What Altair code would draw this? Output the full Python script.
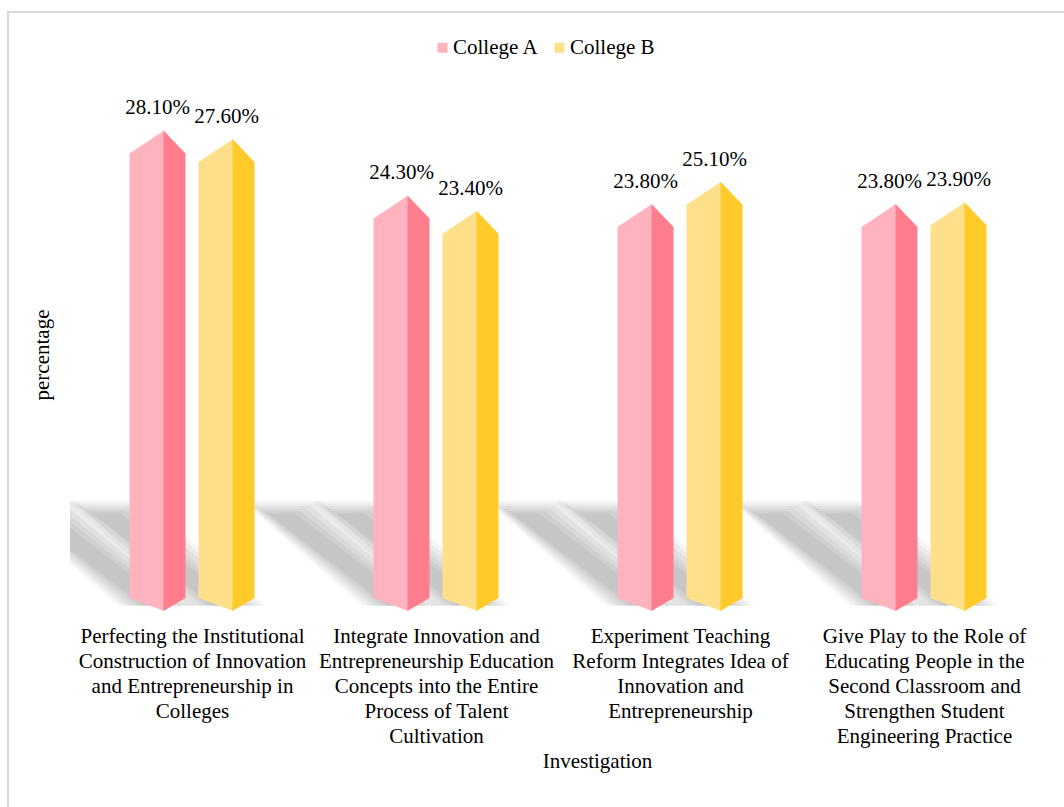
import json
import altair as alt
import pandas as pd

# ---------------- data ----------------
category_lines = [
    ["Perfecting the Institutional", "Construction of Innovation", "and Entrepreneurship in", "Colleges"],
    ["Integrate Innovation and", "Entrepreneurship Education", "Concepts into the Entire", "Process of Talent", "Cultivation"],
    ["Experiment Teaching", "Reform Integrates Idea of", "Innovation and", "Entrepreneurship"],
    ["Give Play to the Role of", "Educating People in the", "Second Classroom and", "Strengthen Student", "Engineering Practice"],
]
series_names = ["College A", "College B"]
college_a = [28.1, 24.3, 23.8, 23.8]
college_b = [27.6, 23.4, 25.1, 23.9]
front_colors = ["#FFB3BF", "#FFE08A"]
side_colors = ["#FF7D8D", "#FFCA2A"]

FONT = "Liberation Serif"
W, H = 976, 513
Y_MAX = 30.0
N = len(category_lines)
px_x = N / W        # x data units per pixel
px_y = Y_MAX / H    # y data units per pixel

# style offsets of the pseudo-3D prisms (pixels from category centre)
bar_offsets = {"College A": (-62.5, -28.5, -6.5), "College B": (6.5, 40.5, 62.5)}
TOP_DROP = 23 * px_y
BOTTOM_RISE = 13 * px_y
SHADOW_SHIFT = 120 * px_x
SHADOW_TOP = 6.0
SHADOW_BOTTOM = 0.3
BLUR_STEPS = [0, 5, 10, 15, 20, 25]

values = {"College A": college_a, "College B": college_b}
faces, labels, shadows = [], [], []
for i in range(N):
    c = i + 0.5
    for s in series_names:
        v = values[s][i]
        o0, oc, o1 = bar_offsets[s]
        x0, xc, x1 = c + o0 * px_x, c + oc * px_x, c + o1 * px_x
        key = f"{i}-{s}"
        faces += [
            dict(x=x0, y=v - TOP_DROP, y2=BOTTOM_RISE, face=key + "-f", series=s, part="front"),
            dict(x=xc + 0.6 * px_x, y=v, y2=0, face=key + "-f", series=s, part="front"),
            dict(x=xc, y=v, y2=0, face=key + "-s", series=s, part="side"),
            dict(x=x1, y=v - TOP_DROP, y2=BOTTOM_RISE, face=key + "-s", series=s, part="side"),
        ]
        labels.append(dict(x=(x0 + x1) / 2, y=v, text=f"{v:.2f}%"))
        for k, e in enumerate(BLUR_STEPS):
            shrink = 14 - e  # inner layers are narrower -> soft edges
            sx0, sx1 = x0 + shrink * px_x, x1 - shrink * px_x
            yt = SHADOW_TOP + (e - 10) * px_y * 0.5
            yb = SHADOW_BOTTOM
            w = sx1 - sx0
            D = SHADOW_SHIFT
            sid = f"{key}-{k}"
            shadows += [
                dict(x=sx0 - D, y=yt, y2=yt, sid=sid),
                dict(x=sx1 - D, y=yt, y2=yt + (yb - yt) * w / D, sid=sid),
                dict(x=sx0, y=yt + (yb - yt) * (D - w) / D, y2=yb, sid=sid),
                dict(x=sx1, y=yb, y2=yb, sid=sid),
            ]

faces_df = pd.DataFrame(faces)
labels_df = pd.DataFrame(labels)
shadows_df = pd.DataFrame(shadows)

joined = ["|".join(lines) for lines in category_lines]
label_expr = "split(" + json.dumps(joined) + "[floor(datum.value)], '|')"

x_axis = alt.Axis(
    values=[i + 0.5 for i in range(N)], labelExpr=label_expr,
    domain=False, ticks=False, grid=False, labelLimit=0,
    labelFont=FONT, labelFontSize=21, labelColor="#000000", labelLineHeight=25,
    labelPadding=14, labelOverlap=False, labelFlush=False,
    title="Investigation", titleFont=FONT, titleFontSize=21, titleFontWeight="normal",
    titleColor="#000000", titleX=527, titleY=139, titleBaseline="top", titleAlign="center",
)
y_axis = alt.Axis(
    domain=False, ticks=False, labels=False, grid=False,
    title="percentage", titleFont=FONT, titleFontSize=21, titleFontWeight="normal",
    titleColor="#000000", titleX=-28, titleY=H / 2, titleAngle=270,
    titleBaseline="middle", titleAlign="center",
)
x_enc = alt.X("x:Q", scale=alt.Scale(domain=[0, N], nice=False, zero=False), axis=x_axis)
y_enc = alt.Y("y:Q", scale=alt.Scale(domain=[0, Y_MAX], nice=False), axis=y_axis)

frame = alt.Chart(pd.DataFrame({"a": [0]})).mark_rect(
    filled=False, stroke="#D9D9D9", strokeWidth=2, clip=False
).encode(x=alt.value(-62), x2=alt.value(W + 100), y=alt.value(-86), y2=alt.value(H + 300))

shadow_layer = alt.Chart(shadows_df).mark_area(
    orient="vertical", color="#000000", opacity=0.04, clip=True
).encode(x=x_enc, y=y_enc, y2="y2:Q", detail="sid:N")

front_layer = alt.Chart(faces_df).transform_filter(alt.datum.part == "front").mark_area(
    orient="vertical", opacity=1
).encode(
    x=x_enc, y=y_enc, y2="y2:Q", detail="face:N",
    color=alt.Color(
        "series:N",
        scale=alt.Scale(domain=series_names, range=front_colors),
        legend=alt.Legend(
            title=None, orient="none", legendX=362, legendY=-61, direction="horizontal",
            symbolType="square", symbolSize=100, symbolStrokeWidth=0, symbolOpacity=1,
            labelFont=FONT, labelFontSize=21, labelColor="#000000", labelOffset=0,
            columnPadding=10, padding=0,
        ),
    ),
)
side_layer = alt.Chart(faces_df).transform_filter(alt.datum.part == "side").mark_area(
    orient="vertical", opacity=1
).encode(
    x=x_enc, y=y_enc, y2="y2:Q", detail="face:N",
    color=alt.Color("series:N", scale=alt.Scale(domain=series_names, range=side_colors), legend=None),
)
text_layer = alt.Chart(labels_df).mark_text(
    font=FONT, fontSize=21, color="#000000", baseline="middle", dy=-22
).encode(x=x_enc, y=y_enc, text="text:N")

chart = alt.layer(frame, shadow_layer, front_layer, side_layer, text_layer).resolve_scale(
    color="independent"
).properties(
    width=W, height=H,
    autosize=alt.AutoSizeParams(type="none"),
    padding={"left": 70, "top": 98, "right": 18, "bottom": 196},
).configure(
    background="#FFFFFF", font=FONT
).configure_view(strokeWidth=0, stroke="transparent").configure_text(font=FONT).configure_legend(labelFont=FONT)

chart.save("out.html", embed_options={"renderer": "svg", "actions": False})
